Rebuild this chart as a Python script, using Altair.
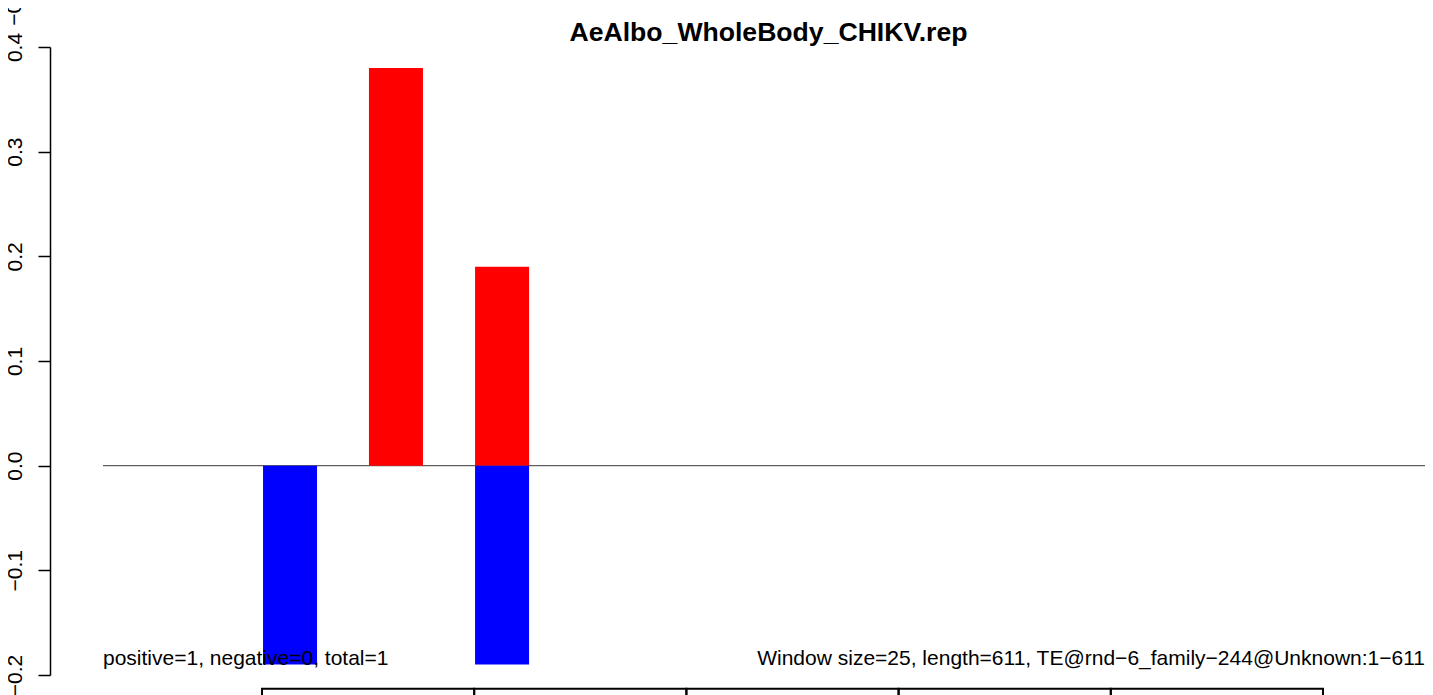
import altair as alt
import pandas as pd

# ---- data ----
title_text = "AeAlbo_WholeBody_CHIKV.rep"
seq_length = 611
bar_width = 31.1          # bp
bar_starts = [0.6, 61.6, 122.7]
pos_values = [0.0, 0.38, 0.19]
neg_values = [-0.19, 0.0, -0.19]
segment_bounds = [0, 122.2, 244.4, 366.6, 488.8, 611]
left_note = "positive=1, negative=0, total=1"
right_note = "Window size=25, length=611, TE@rnd\u22126_family\u2212244@Unknown:1\u2212611"
y_ticks = [-0.2, -0.1, 0.0, 0.1, 0.2, 0.3, 0.4]
remnant_label = "\u22120.2"

X_MIN, X_MAX = -91.56, 669.74
Y_MIN, Y_MAX = -0.2, 0.4
FONT = "Liberation Sans"

rows = []
for s, p, n in zip(bar_starts, pos_values, neg_values):
    if p != 0:
        rows.append({"x": s, "x2": s + bar_width, "y": 0.0, "y2": p, "sign": "pos"})
    if n != 0:
        rows.append({"x": s, "x2": s + bar_width, "y": 0.0, "y2": n, "sign": "neg"})
bars_df = pd.DataFrame(rows)

seg_df = pd.DataFrame({
    "x": segment_bounds[:-1],
    "x2": segment_bounds[1:],
    "y": [-0.2131] * 5,
    "y2": [-0.30] * 5,
})

xscale = alt.Scale(domain=[X_MIN, X_MAX], nice=False, zero=False)
yscale = alt.Scale(domain=[Y_MIN, Y_MAX], nice=False, zero=False)

bars = alt.Chart(bars_df).mark_bar().encode(
    x=alt.X("x:Q", scale=xscale, axis=None),
    x2="x2:Q",
    y=alt.Y("y:Q", scale=yscale,
            axis=alt.Axis(values=y_ticks, format=".1f", title=None, grid=False,
                          offset=53, tickSize=12, tickWidth=1.5, tickColor="black",
                          domainColor="black", domainWidth=1.5,
                          labelAngle=270, labelAlign="center", labelBaseline="alphabetic",
                          labelPadding=17, labelFont=FONT, labelFontSize=21,
                          labelColor="black", labelOverlap=False)),
    y2="y2:Q",
    color=alt.Color("sign:N", scale=alt.Scale(domain=["pos", "neg"], range=["#FF0000", "#0000FF"]),
                    legend=None),
)

zero_df = pd.DataFrame({"x": [X_MIN], "x2": [X_MAX], "y": [0.0]})
zero_line = alt.Chart(zero_df).mark_rule(color="#5f5f5f", strokeWidth=1.3).encode(
    x=alt.X("x:Q", scale=xscale, axis=None), x2="x2:Q", y=alt.Y("y:Q", scale=yscale)
)

segments = alt.Chart(seg_df).mark_rect(fill="white", fillOpacity=0, stroke="black",
                                       strokeWidth=2).encode(
    x=alt.X("x:Q", scale=xscale, axis=None), x2="x2:Q",
    y=alt.Y("y:Q", scale=yscale), y2="y2:Q",
)

left_df = pd.DataFrame({"x": [X_MIN], "y": [-0.19], "label": [left_note]})
right_df = pd.DataFrame({"x": [X_MAX], "y": [-0.19], "label": [right_note]})
left_txt = alt.Chart(left_df).mark_text(
    align="left", baseline="alphabetic", font=FONT, fontSize=21, color="black"
).encode(x=alt.X("x:Q", scale=xscale, axis=None), y=alt.Y("y:Q", scale=yscale), text="label:N")
right_txt = alt.Chart(right_df).mark_text(
    align="right", baseline="alphabetic", font=FONT, fontSize=21, color="black"
).encode(x=alt.X("x:Q", scale=xscale, axis=None), y=alt.Y("y:Q", scale=yscale), text="label:N")

# chart title (drawn as a text mark so the layout cannot push it out of view)
title_df = pd.DataFrame({"label": [title_text]})
title_mark = alt.Chart(title_df).mark_text(
    align="center", baseline="alphabetic", font=FONT, fontSize=26.6, fontWeight="bold",
    color="black"
).encode(x=alt.value(665.5), y=alt.value(-6), text="label:N")

# clipped remnant of the previous panel's axis label at the very top edge
remnant_df = pd.DataFrame({"label": [remnant_label]})
remnant = alt.Chart(remnant_df).mark_text(
    angle=270, align="center", baseline="alphabetic", font=FONT, fontSize=21, color="black"
).encode(x=alt.value(-82), y=alt.value(-42), text="label:N")

chart = alt.layer(zero_line, bars, segments, left_txt, right_txt, title_mark, remnant).properties(
    width=1322, height=628,
    autosize=alt.AutoSizeParams(type="none"),
    padding={"left": 95, "top": 39, "right": 0, "bottom": 20},
).configure_view(strokeWidth=0)

chart.save("out.html", embed_options={"renderer": "svg", "actions": False})
